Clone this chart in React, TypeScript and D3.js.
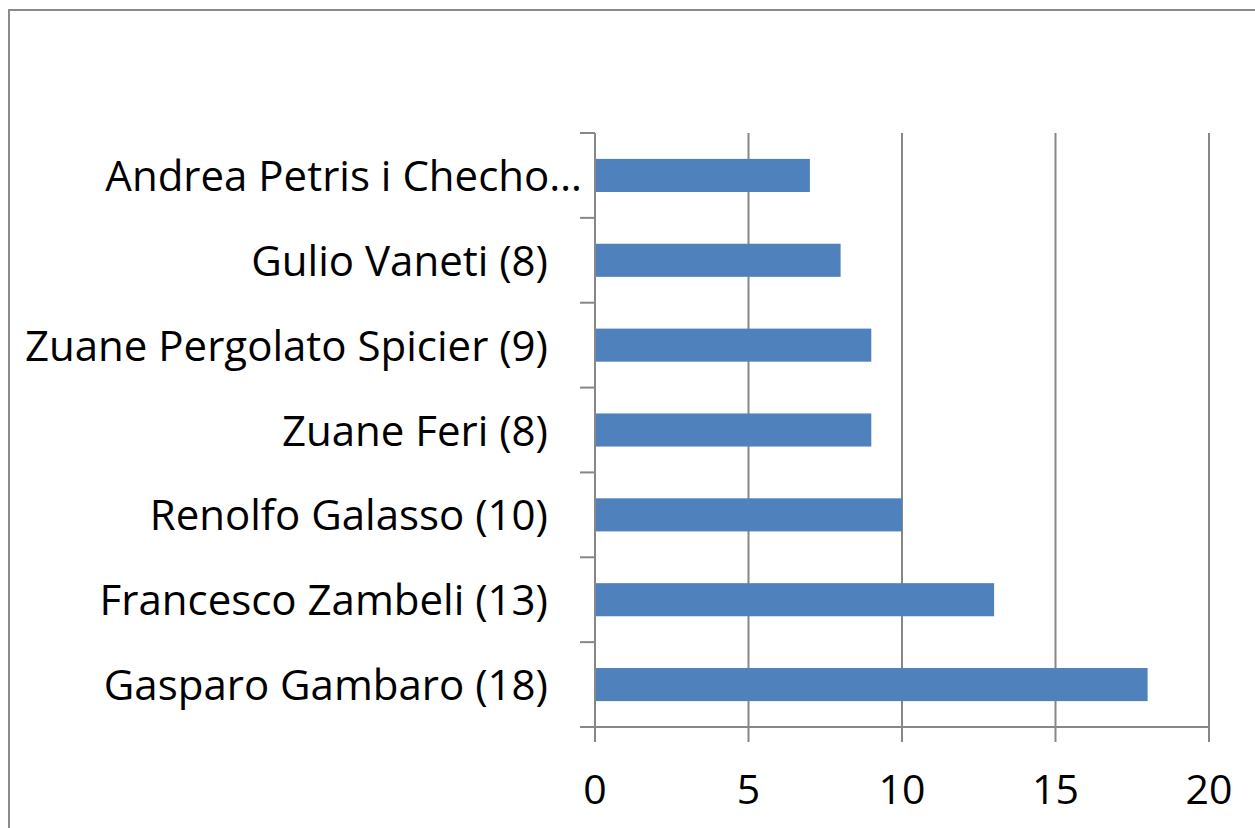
import * as d3 from 'd3'
import { useEffect, useRef } from 'react'

// categories top to bottom, as they show in the chart
const names = [
  'Andrea Petris i Checho…',
  'Gulio Vaneti (8)',
  'Zuane Pergolato Spicier (9)',
  'Zuane Feri (8)',
  'Renolfo Galasso (10)',
  'Francesco Zambeli (13)',
  'Gasparo Gambaro (18)',
]
const counts = [7, 8, 9, 9, 10, 13, 18]
const xTicks = [0, 5, 10, 15, 20]

const W = 1255
const H = 828

const App = () => {
  const svgRef = useRef<SVGSVGElement>(null)

  useEffect(() => {
    const svg = d3.select(svgRef.current)
    svg.selectAll('*').remove()

    const left = 595
    const right = 1209
    const top = 133
    const bottom = 727
    const font = '"Open Sans", sans-serif'
    const grey = '#878787'

    const x = d3.scaleLinear().domain([0, 20]).range([left, right])
    const y = d3.scaleBand().domain(names).range([top, bottom]).paddingInner(0).paddingOuter(0)

    // outer chart border (runs off the right and bottom edges)
    svg
      .append('rect')
      .attr('x', 9)
      .attr('y', 10)
      .attr('width', W + 20)
      .attr('height', H + 20)
      .attr('fill', 'none')
      .attr('stroke', '#8a8a8a')
      .attr('stroke-width', 2)

    // vertical gridlines, running down past the axis as tick marks
    svg
      .append('g')
      .selectAll('line')
      .data(xTicks)
      .join('line')
      .attr('x1', (d) => x(d))
      .attr('x2', (d) => x(d))
      .attr('y1', top)
      .attr('y2', bottom + 15)
      .attr('stroke', grey)
      .attr('stroke-width', 2)

    // category axis ticks
    const yEdges = names.map((n) => y(n)!).concat([bottom])
    svg
      .append('g')
      .selectAll('line')
      .data(yEdges)
      .join('line')
      .attr('x1', left - 15)
      .attr('x2', left)
      .attr('y1', (d) => d)
      .attr('y2', (d) => d)
      .attr('stroke', grey)
      .attr('stroke-width', 2)

    // value axis line
    svg
      .append('line')
      .attr('x1', left - 15)
      .attr('x2', right)
      .attr('y1', bottom)
      .attr('y2', bottom)
      .attr('stroke', grey)
      .attr('stroke-width', 2)

    // bars
    const barH = y.bandwidth() * 0.39
    svg
      .append('g')
      .selectAll('rect')
      .data(counts)
      .join('rect')
      .attr('x', x(0))
      .attr('y', (d, i) => y(names[i])! + (y.bandwidth() - barH) / 2)
      .attr('width', (d) => x(d) - x(0))
      .attr('height', barH)
      .attr('fill', '#4f81bd')

    // category axis line, drawn over the bars
    svg
      .append('line')
      .attr('x1', left)
      .attr('x2', left)
      .attr('y1', top)
      .attr('y2', bottom + 15)
      .attr('stroke', grey)
      .attr('stroke-width', 2)

    // category labels
    svg
      .append('g')
      .selectAll('text')
      .data(names)
      .join('text')
      .attr('x', (d, i) => (i === 0 ? 582 : 548))
      .attr('y', (d) => y(d)! + y.bandwidth() / 2 + 15.5)
      .attr('text-anchor', 'end')
      .style('font-family', font)
      .style('font-size', '42px')
      .attr('fill', '#000')
      .text((d) => d)

    // value tick labels
    svg
      .append('g')
      .selectAll('text')
      .data(xTicks)
      .join('text')
      .attr('x', (d) => x(d))
      .attr('y', 804)
      .attr('text-anchor', 'middle')
      .style('font-family', font)
      .style('font-size', '41px')
      .attr('fill', '#000')
      .text((d) => d)
  }, [])

  return (
    <svg
      ref={svgRef}
      width={W}
      height={H}
      style={{ position: 'absolute', left: 0, top: 0, background: '#fff' }}
    ></svg>
  )
}
export default App
